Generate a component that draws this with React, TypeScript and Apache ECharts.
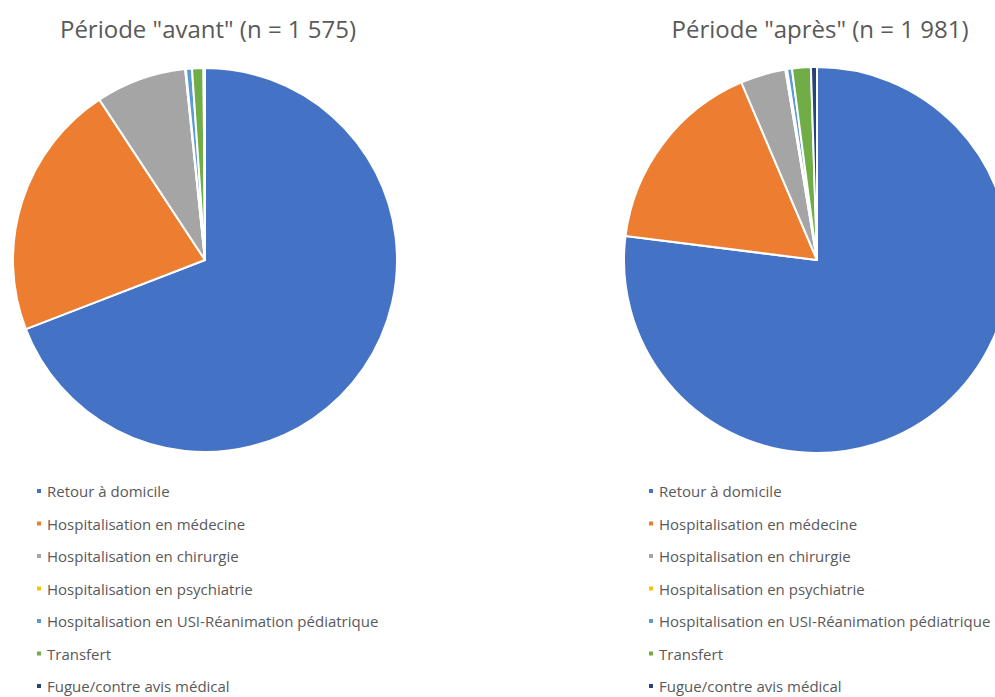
import React, { useEffect, useRef } from "react";
import * as echarts from "echarts";

const categories = [
  "Retour à domicile",
  "Hospitalisation en médecine",
  "Hospitalisation en chirurgie",
  "Hospitalisation en psychiatrie",
  "Hospitalisation en USI-Réanimation pédiatrique",
  "Transfert",
  "Fugue/contre avis médical",
];
const colors = ["#4472C4", "#ED7D31", "#A5A5A5", "#FFC000", "#5B9BD5", "#70AD47", "#264478"];
const avantValues = [1089, 340, 120, 1, 8, 15, 2];
const apresValues = [1525, 329, 75, 3, 8, 31, 10];
const titles = ['Période "avant" (n = 1 575)', 'Période "après" (n = 1 981)'];

const FONT = "'Open Sans', 'Noto Sans', sans-serif";

export default function App() {
  const ref = useRef<HTMLDivElement>(null);
  useEffect(() => {
    if (!ref.current) return;
    const chart = echarts.init(ref.current, undefined, { renderer: "svg" });
    const mk = (vals: number[]) => categories.map((c, i) => ({ name: c, value: vals[i] }));
    const legendBase = {
      orient: "vertical" as const,
      top: 478,
      height: 230,
      icon: "rect",
      itemWidth: 6,
      itemHeight: 6,
      itemGap: 16.5,
      selectedMode: false,
      data: categories,
      textStyle: { fontFamily: FONT, fontSize: 15, color: "#595959", lineHeight: 16 },
    };
    chart.setOption({
      animation: false,
      backgroundColor: "#ffffff",
      color: colors,
      title: [
        {
          text: titles[0],
          left: 203,
          textAlign: "center",
          top: 11,
          textStyle: { fontFamily: FONT, fontSize: 24, fontWeight: "normal", color: "#595959" },
        },
        {
          text: titles[1],
          left: 815,
          textAlign: "center",
          top: 11,
          textStyle: { fontFamily: FONT, fontSize: 24, fontWeight: "normal", color: "#595959" },
        },
      ],
      legend: [
        { ...legendBase, left: 30 },
        { ...legendBase, left: 642 },
      ],
      series: [
        {
          type: "pie",
          center: [205, 260],
          radius: 192,
          startAngle: 90,
          clockwise: true,
          label: { show: false },
          labelLine: { show: false },
          itemStyle: { borderColor: "#ffffff", borderWidth: 2 },
          emphasis: { disabled: true },
          data: mk(avantValues),
        },
        {
          type: "pie",
          center: [817, 260],
          radius: 193,
          startAngle: 90,
          clockwise: true,
          label: { show: false },
          labelLine: { show: false },
          itemStyle: { borderColor: "#ffffff", borderWidth: 2 },
          emphasis: { disabled: true },
          data: mk(apresValues),
        },
      ],
    });
    return () => chart.dispose();
  }, []);
  return (
    <div
      ref={ref}
      style={{ position: "fixed", left: 0, top: 0, width: 995, height: 697 }}
    />
  );
}
